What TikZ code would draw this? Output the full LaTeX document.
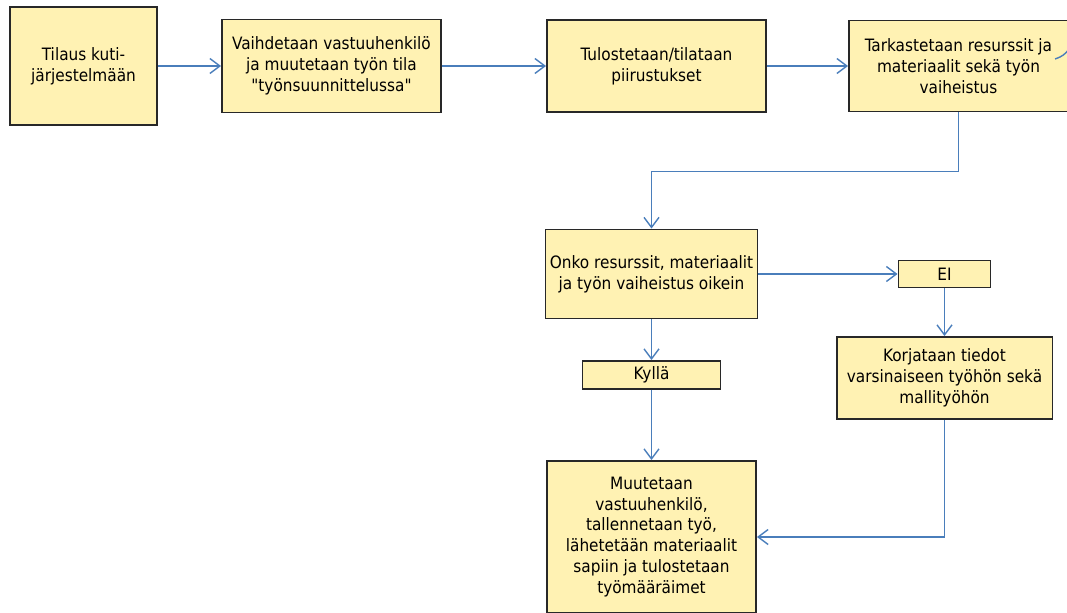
\documentclass[tikz,border=0pt]{standalone}
\usepackage{fontspec}
\setmainfont{DejaVu Sans Condensed}[Ligatures=TeXOff]
\usepackage{xcolor}
\usetikzlibrary{arrows.meta,positioning,calc}
\definecolor{boxfill}{RGB}{255,242,179}
\definecolor{boxline}{RGB}{40,40,40}
\definecolor{linkblue}{RGB}{74,126,187}

\begin{document}
\begin{tikzpicture}[x=0.02cm,y=-0.02cm,
    box/.style={draw=boxline,line width=1.1pt,fill=boxfill,align=center,inner sep=2pt,
        font=\fontsize{9.7}{11.9}\selectfont},
    link/.style={draw=linkblue,line width=0.8pt,-{Straight Barb[length=2mm,width=3mm]}}]
    \clip (0,0) rectangle (1067,612);

    % Top row
    \node[box,minimum width=2.94cm,minimum height=2.36cm] (order) at (83.5,66) {Tilaus kuti-\\järjestelmään};
    \node[box,minimum width=4.38cm,minimum height=1.86cm] (owner) at (331.5,66) {Vaihdetaan vastuuhenkilö\\ja muutetaan työn tila\\"työnsuunnittelussa"};
    \node[box,minimum width=4.38cm,minimum height=1.84cm] (print) at (656.5,66) {Tulostetaan/tilataan\\piirustukset};
    \node[box,minimum width=4.38cm,minimum height=1.82cm] (check) at (958.5,66) {Tarkastetaan resurssit ja\\materiaalit sekä työn\\vaiheistus};

    % Decision and answers
    \node[box,minimum width=4.24cm,minimum height=1.78cm] (ok) at (651.5,274) {Onko resurssit, materiaalit\\ja työn vaiheistus oikein};
    \node[box,minimum width=1.84cm,minimum height=0.54cm] (no) at (944.5,274) {EI};
    \node[box,minimum width=2.76cm,minimum height=0.56cm] (yes) at (651.5,375) {Kyllä};
    \node[box,minimum width=4.32cm,minimum height=1.64cm] (fix) at (944.5,378) {Korjataan tiedot\\varsinaiseen työhön sekä\\mallityöhön};
    \node[box,minimum width=4.18cm,minimum height=3.04cm] (save) at (651.5,537) {Muutetaan\\vastuuhenkilö,\\tallennetaan työ,\\lähetetään materiaalit\\sapiin ja tulostetaan\\työmääräimet};

    % Connectors
    \draw[link] (order.east) -- (owner.west);
    \draw[link] (owner.east) -- (print.west);
    \draw[link] (print.east) -- (check.west);
    \draw[link] (check.south) -- ++(0,59) -| (ok.north);
    \draw[link] (ok.east) -- (no.west);
    \draw[link] (no.south) -- (fix.north);
    \draw[link] (ok.south) -- (yes.north);
    \draw[link] (yes.south) -- (save.north);
    \draw[link] (fix.south) |- (save.east);

    % Connector leaving to the right
    \coordinate (outstart) at (1055,59);
    \coordinate (outend) at (1072,46);
    \draw[draw=linkblue,line width=0.8pt] (outstart) .. controls (1063,56) .. (outend);
\end{tikzpicture}
\end{document}
